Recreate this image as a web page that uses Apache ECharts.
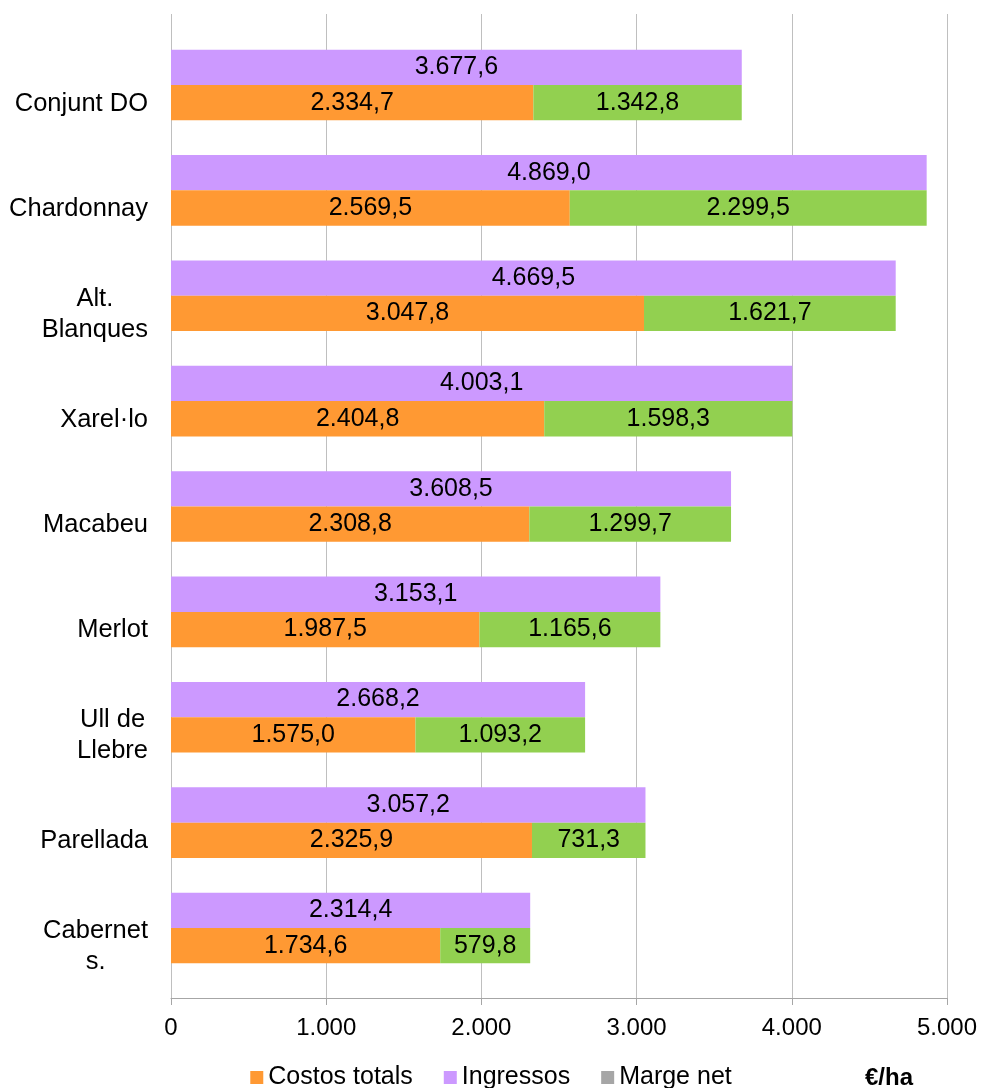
<!DOCTYPE html>
<html>
<head>
<meta charset="utf-8">
<script src="https://cdn.jsdelivr.net/npm/echarts@6/dist/echarts.min.js"></script>
<style>
html,body{margin:0;padding:0;background:#fff;}
#chart{width:982px;height:1088px;}
</style>
</head>
<body>
<div id="chart"></div>
<script>
const categories = ['Conjunt DO', 'Chardonnay', 'Alt.\nBlanques', 'Xarel·lo', 'Macabeu', 'Merlot', 'Ull de\nLlebre', 'Parellada', 'Cabernet\ns.'];
const costosTotals = [2334.7, 2569.5, 3047.8, 2404.8, 2308.8, 1987.5, 1575.0, 2325.9, 1734.6];
const margeNet = [1342.8, 2299.5, 1621.7, 1598.3, 1299.7, 1165.6, 1093.2, 731.3, 579.8];
const ingressos = [3677.6, 4869.0, 4669.5, 4003.1, 3608.5, 3153.1, 2668.2, 3057.2, 2314.4];
const xTicks = [0, 1000, 2000, 3000, 4000, 5000];

const FONT = 'Liberation Sans, Arial, sans-serif';
function fmtThousands(v, dec) {
  const parts = v.toFixed(dec).split('.');
  parts[0] = parts[0].replace(/\B(?=(\d{3})+(?!\d))/g, '.');
  return parts.length > 1 ? parts[0] + ',' + parts[1] : parts[0];
}

const chart = echarts.init(document.getElementById('chart'), null, {renderer: 'canvas'});
const labelStyle = {
  show: true, position: 'inside', color: '#000', fontSize: 25, fontFamily: FONT,
  formatter: p => fmtThousands(p.value, 1)
};
const option = {
  animation: false,
  backgroundColor: '#fff',
  grid: [
    {left: 171, right: 35, top: 14, bottom: 90},
    {left: 171, right: 35, top: 32.3, bottom: 107.3}
  ],
  xAxis: [
    {
      gridIndex: 0, type: 'value', min: xTicks[0], max: xTicks[xTicks.length - 1], interval: 1000,
      axisLine: {show: true, lineStyle: {color: '#A6A6A6', width: 1}},
      axisTick: {show: true, length: 7, lineStyle: {color: '#A6A6A6'}},
      splitLine: {show: true, lineStyle: {color: '#BFBFBF', width: 1}},
      axisLabel: {color: '#000', fontSize: 24, fontFamily: FONT, margin: 18,
        formatter: v => fmtThousands(v, 0)}
    },
    {gridIndex: 1, type: 'value', min: 0, max: 5000, show: false}
  ],
  yAxis: [
    {gridIndex: 0, type: 'value', min: 0, max: 1, show: false},
    {
      gridIndex: 1, type: 'category', data: categories, inverse: true,
      axisLine: {show: false}, axisTick: {show: false}, splitLine: {show: false},
      axisLabel: {
        margin: 23, color: '#000', fontSize: 25.5, fontFamily: FONT,
        padding: [37, 0, 0, 0],
        formatter: v => v.split('\n').map(s => '{c|' + s + '}').join('\n'),
        rich: {c: {align: 'center', fontSize: 25.5, fontFamily: FONT, color: '#000', lineHeight: 31}}
      }
    }
  ],
  legend: {
    left: 'center', top: 1060, itemWidth: 13, itemHeight: 13, itemGap: 31, icon: 'rect',
    textStyle: {fontSize: 25, fontFamily: FONT, color: '#000'},
    data: [
      {name: 'Costos totals'},
      {name: 'Ingressos'},
      {name: 'Marge net', itemStyle: {color: '#A6A6A6'}}
    ]
  },
  graphic: [{
    type: 'text', left: 865, top: 1066,
    style: {text: '€/ha', fontSize: 24, fontWeight: 'bold', fontFamily: FONT, fill: '#000'}
  }],
  series: [
    {
      name: 'Ingressos', type: 'bar', xAxisIndex: 1, yAxisIndex: 1, data: ingressos,
      barWidth: 35.3, barGap: '0%', itemStyle: {color: '#CC99FF'}, label: labelStyle
    },
    {
      name: 'Costos totals', type: 'bar', stack: 'c', xAxisIndex: 1, yAxisIndex: 1, data: costosTotals,
      barWidth: 35.3, barGap: '0%', itemStyle: {color: '#FF9933'}, label: labelStyle
    },
    {
      name: 'Marge net', type: 'bar', stack: 'c', xAxisIndex: 1, yAxisIndex: 1, data: margeNet,
      barWidth: 35.3, barGap: '0%', itemStyle: {color: '#92D050'}, label: labelStyle
    }
  ]
};
chart.setOption(option);
</script>
</body>
</html>
